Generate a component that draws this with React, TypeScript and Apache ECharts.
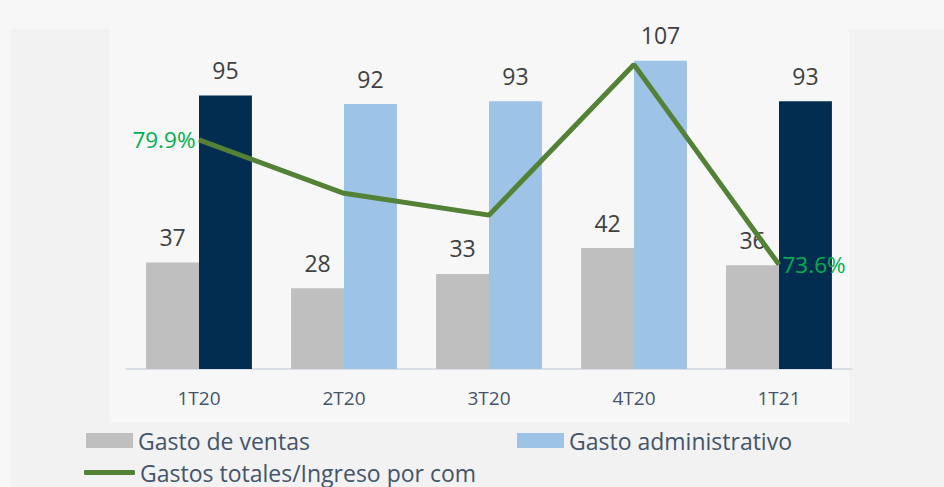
import React, { useEffect, useRef } from "react";
import * as echarts from "echarts";

const categories = ["1T20", "2T20", "3T20", "4T20", "1T21"];
const gastoVentas = [37, 28, 33, 42, 36];
const gastoAdmin = [95, 92, 93, 107, 93];
const ratio = [79.9, 77.2, 76.1, 83.7, 73.6];
const highlightAdmin = [true, false, false, false, true];

const FONT = "Open Sans";

export default function App() {
  const ref = useRef<HTMLDivElement>(null);
  useEffect(() => {
    if (!ref.current) return;
    const chart = echarts.init(ref.current, null, { renderer: "svg" });
    const legendText = { color: "#44546a", fontSize: 23, fontFamily: FONT };
    const option = {
      animation: false,
      backgroundColor: "#f7f7f7",
      textStyle: { fontFamily: FONT },
      graphic: [
        { type: "rect", z: -10, silent: true, shape: { x: 11, y: 29, width: 933, height: 458 }, style: { fill: "#f2f2f2" } },
        { type: "rect", z: -9, silent: true, shape: { x: 110, y: 29, width: 739, height: 394 }, style: { fill: "#f7f7f7" } },
      ],
      grid: { left: 126.5, right: 944 - 851.5, top: 23.4, height: 345.6, containLabel: false },
      xAxis: {
        type: "category",
        data: categories,
        axisLine: { lineStyle: { color: "#d9dee6", width: 2 } },
        axisTick: { show: false },
        axisLabel: { color: "#44546a", fontSize: 19, margin: 19, fontFamily: FONT },
      },
      yAxis: [
        { type: "value", min: 0, max: 120, show: false, splitLine: { show: false } },
        { type: "value", min: 68.33, max: 85.78, show: false, splitLine: { show: false } },
      ],
      legend: [
        {
          data: ["Gasto de ventas"], left: 86, top: 429, itemWidth: 47, itemHeight: 15, itemGap: 6,
          icon: "rect", textStyle: legendText, padding: 0, itemStyle: { borderWidth: 0 },
        },
        {
          data: ["Gasto administrativo"], left: 517, top: 429, itemWidth: 47, itemHeight: 15,
          icon: "rect", textStyle: legendText, padding: 0,
        },
        {
          data: ["Gastos totales/Ingreso por com"], left: 84, top: 461, itemWidth: 51, itemHeight: 5,
          icon: "roundRect", textStyle: legendText, padding: 0,
        },
      ],
      series: [
        {
          name: "Gasto de ventas",
          type: "bar",
          data: gastoVentas,
          itemStyle: { color: "#bfbfbf" },
          barGap: "0%",
          barCategoryGap: "27%",
          label: { show: true, position: "top", distance: 14, color: "#404040", fontSize: 23, fontFamily: FONT },
        },
        {
          name: "Gasto administrativo",
          type: "bar",
          data: gastoAdmin.map((v, i) => ({
            value: v,
            itemStyle: { color: highlightAdmin[i] ? "#022d51" : "#9dc3e6" },
          })),
          itemStyle: { color: "#9dc3e6" },
          barGap: "0%",
          barCategoryGap: "27%",
          label: { show: true, position: "top", distance: 14, color: "#404040", fontSize: 23, fontFamily: FONT },
        },
        {
          name: "Gastos totales/Ingreso por com",
          type: "line",
          yAxisIndex: 1,
          data: ratio.map((v, i) => ({
            value: v,
            label: {
              show: i === 0 || i === ratio.length - 1,
              position: i === 0 ? "left" : "right",
              distance: 3,
              formatter: (p: any) => p.value.toFixed(1) + "%",
              color: "#00b050",
              fontSize: 22.5,
              fontFamily: FONT,
            },
          })),
          symbol: "circle",
          symbolSize: 1,
          showSymbol: true,
          lineStyle: { color: "#538135", width: 5 },
          itemStyle: { color: "#538135" },
          z: 5,
        },
      ],
    };
    chart.setOption(option as any);
    return () => chart.dispose();
  }, []);
  return <div ref={ref} style={{ width: 944, height: 487, position: "absolute", left: 0, top: 0 }} />;
}
